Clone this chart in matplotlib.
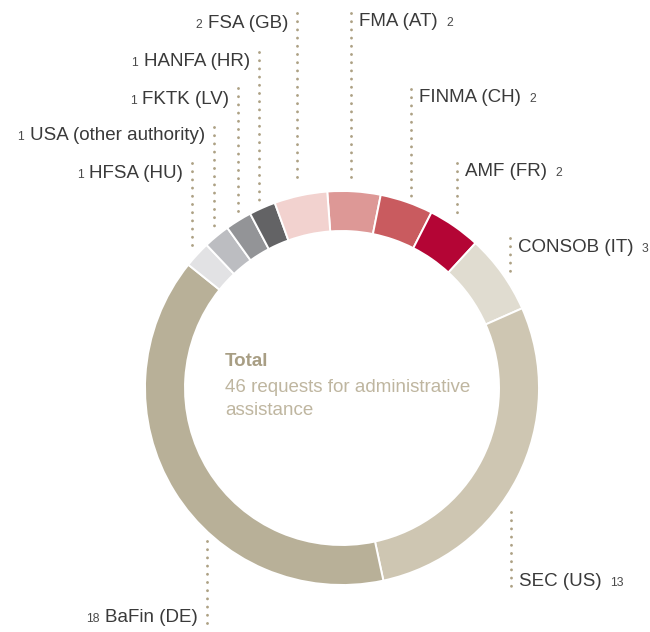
import matplotlib
matplotlib.use("Agg")
import matplotlib.pyplot as plt

# data, clockwise from the top
names = ["FMA (AT)", "FINMA (CH)", "AMF (FR)", "CONSOB (IT)", "SEC (US)",
         "BaFin (DE)", "HFSA (HU)", "USA (other authority)", "FKTK (LV)",
         "HANFA (HR)", "FSA (GB)"]
counts = [2, 2, 2, 3, 13, 18, 1, 1, 1, 1, 2]
colors = ["#dd9896", "#c95b5f", "#b40535", "#e0dcd0", "#cec6b2",
          "#b8b098", "#e2e2e4", "#bcbdc1", "#939497", "#636365", "#f2d2cf"]
total_title = "Total"
total_lines = ["46 requests for administrative", "assistance"]

# leader layout in pixels: line x, line top, line bottom, text y, side
leaders = {
    "FMA (AT)": (351, 13, 184, 20, "right"),
    "FINMA (CH)": (411, 89, 198, 96, "right"),
    "AMF (FR)": (457, 163, 216, 170, "right"),
    "CONSOB (IT)": (510, 238, 271, 245, "right"),
    "SEC (US)": (511, 512, 589, 580, "right"),
    "BaFin (DE)": (207, 541, 624, 616, "left"),
    "HFSA (HU)": (192, 163, 249, 171, "left"),
    "USA (other authority)": (214, 127, 227, 133, "left"),
    "FKTK (LV)": (238, 88, 213, 97, "left"),
    "HANFA (HR)": (259, 52, 202, 59, "left"),
    "FSA (GB)": (297, 13, 183, 21, "left"),
}

W, H = 650, 632
plt.rcParams["font.family"] = ["Liberation Sans", "DejaVu Sans"]

fig = plt.figure(figsize=(W / 100, H / 100), dpi=100)
ax = fig.add_axes([0, 0, 1, 1])

cx, cy, R, ring = 342, H - 388, 197, 40
ax.pie(counts, colors=colors, radius=R, center=(cx, cy), startangle=94.3,
       counterclock=False,
       wedgeprops=dict(width=ring, edgecolor="white", linewidth=1.4))

ax.set_xlim(0, W)
ax.set_ylim(0, H)
ax.set_aspect("equal")
ax.axis("off")

dot_color = "#ada184"
name_color = "#3a3a3a"
num_color = "#4a4a4a"

for name, n in zip(names, counts):
    lx, top, bot, ty, side = leaders[name]
    ax.plot([lx, lx], [H - top, H - bot], color=dot_color, lw=2.1,
            linestyle=(0, (0.01, 2.8)), dash_capstyle="round")
    base = H - ty - 6.5  # baseline shared by name and number
    if side == "right":
        t = ax.text(lx + 8, base, name, fontsize=13.5, color=name_color,
                    ha="left", va="baseline")
        ax.annotate(str(n), xy=(1, base), xycoords=(t, "data"),
                    xytext=(6, 0), textcoords="offset points",
                    fontsize=8.7, color=num_color, ha="left", va="baseline")
    else:
        t = ax.text(lx - 9, base, name, fontsize=13.5, color=name_color,
                    ha="right", va="baseline")
        ax.annotate(str(n), xy=(0, base), xycoords=(t, "data"),
                    xytext=(-4, 0), textcoords="offset points",
                    fontsize=8.7, color=num_color, ha="right", va="baseline")

ax.text(225, H - 361, total_title, fontsize=13.5, fontweight="bold",
        color="#a89e84", ha="left", va="center")
for i, line in enumerate(total_lines):
    ax.text(225, H - 387 - 23.5 * i, line, fontsize=13.5, color="#bfb6a0",
            ha="left", va="center")

fig.savefig("out.png", dpi=100)
